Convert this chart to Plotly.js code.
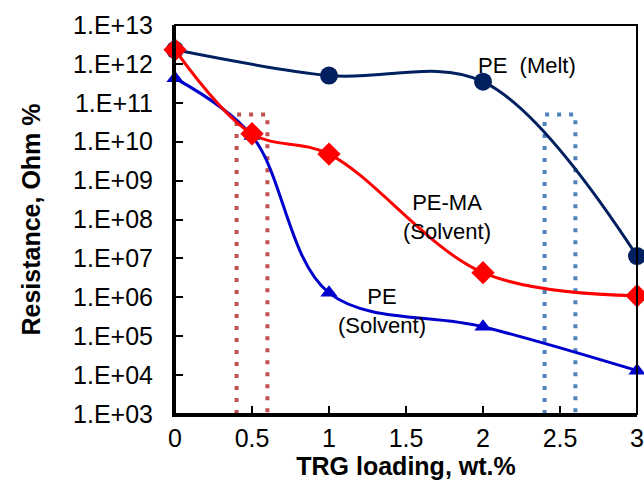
<!DOCTYPE html>
<html>
<head>
<meta charset="utf-8">
<script src="https://cdn.plot.ly/plotly-3.0.1.min.js"></script>
<style>html,body{margin:0;padding:0;background:#fff;}#chart{width:644px;height:484px;}</style>
</head>
<body>
<div id="chart"></div>
<script>
// Data
const loading = [0, 0.5, 1, 1.5, 2, 2.5, 3];
const peMeltX = [0, 1, 2, 3];
const peMeltY = [2.3e12, 5.0e11, 3.5e11, 1.15e7];
const peMaX = [0, 0.5, 1, 2, 3];
const peMaY = [2.3e12, 1.6e10, 4.8e9, 4.3e6, 1.1e6];
const peSolX = [0, 0.5, 1, 2, 3];
const peSolY = [4.3e11, 1.4e10, 1.3e6, 1.75e5, 1.3e4];
const redBoxX = [0.4, 0.4, 0.6, 0.6];
const blueBoxX = [2.4, 2.4, 2.6, 2.6];
const boxY = [1e3, 5e10, 5e10, 1e3];
const yTickVals = [1e3, 1e4, 1e5, 1e6, 1e7, 1e8, 1e9, 1e10, 1e11, 1e12, 1e13];
const yTickText = ["1.E+03","1.E+04","1.E+05","1.E+06","1.E+07","1.E+08","1.E+09","1.E+10","1.E+11","1.E+12","1.E+13"];
const xTickText = ["0","0.5","1","1.5","2","2.5","3"];

const FONT = "Liberation Sans, Arial, sans-serif";

const traces = [
  {x: redBoxX, y: boxY, mode: 'lines', line: {color: '#c0504d', width: 4, dash: '4px,8px'}, hoverinfo: 'skip', showlegend: false},
  {x: blueBoxX, y: boxY, mode: 'lines', line: {color: '#4f81bd', width: 4, dash: '4px,8px'}, hoverinfo: 'skip', showlegend: false},
  {x: peMeltX, y: peMeltY, mode: 'lines+markers', name: 'PE (Melt)', cliponaxis: false,
   line: {color: '#002060', width: 3, shape: 'spline', smoothing: 1},
   marker: {symbol: 'circle', size: 18, color: '#002060'}},
  {x: peSolX, y: peSolY, mode: 'lines+markers', name: 'PE (Solvent)', cliponaxis: false,
   line: {color: '#0000cc', width: 3, shape: 'spline', smoothing: 1},
   marker: {symbol: 'triangle-up', size: 15, color: '#0000cc'}},
  {x: peMaX, y: peMaY, mode: 'lines+markers', name: 'PE-MA (Solvent)', cliponaxis: false,
   line: {color: '#ff0000', width: 3, shape: 'spline', smoothing: 1},
   marker: {symbol: 'diamond', size: 18, color: '#ff0000'}}
];

const plotW = 644 - 175 - 7, plotH = 484 - 25 - 70;
function px(xp) { return (xp - 175) / plotW; }
function py(yp) { return 1 - (yp - 25) / plotH; }

const layout = {
  width: 644, height: 484,
  margin: {l: 175, r: 7, t: 25, b: 70},
  paper_bgcolor: '#fff', plot_bgcolor: '#fff',
  showlegend: false,
  font: {family: FONT, color: '#000', size: 22},
  xaxis: {
    range: [0, 3], tickvals: loading, ticktext: xTickText,
    ticks: 'inside', ticklen: 8, tickwidth: 2, tickcolor: '#000',
    showline: true, linecolor: '#000', linewidth: 3,
    showgrid: false, zeroline: false,
    tickfont: {size: 25, family: FONT},
    title: {text: '<b>TRG loading, wt.%</b>', font: {size: 25, family: FONT}, standoff: 6}
  },
  yaxis: {
    type: 'log', range: [3, 13], tickvals: yTickVals, ticktext: yTickText,
    ticks: 'inside', ticklen: 8, tickwidth: 2, tickcolor: '#000',
    showline: true, linecolor: '#000', linewidth: 3,
    showgrid: false, zeroline: false,
    tickfont: {size: 25, family: FONT},
    ticklabelstandoff: 14,
    title: {text: '<b>Resistance, Ohm %</b>', font: {size: 25, family: FONT}, standoff: 26}
  },
  shapes: [
    {type: 'rect', xref: 'paper', yref: 'paper', x0: 0, x1: 1, y0: 0, y1: 1, line: {color: '#000', width: 2}, layer: 'above'}
  ],
  annotations: [
    {xref: 'paper', yref: 'paper', x: px(527), y: py(65), xanchor: 'center', yanchor: 'middle', text: 'PE&nbsp;&nbsp;(Melt)', showarrow: false, font: {size: 22}},
    {xref: 'paper', yref: 'paper', x: px(447), y: py(217), xanchor: 'center', yanchor: 'middle', text: 'PE-MA<br>(Solvent)', showarrow: false, font: {size: 22}},
    {xref: 'paper', yref: 'paper', x: px(382), y: py(311), xanchor: 'center', yanchor: 'middle', text: 'PE<br>(Solvent)', showarrow: false, font: {size: 22}}
  ]
};

Plotly.newPlot('chart', traces, layout, {displayModeBar: false, staticPlot: true});
</script>
</body>
</html>
